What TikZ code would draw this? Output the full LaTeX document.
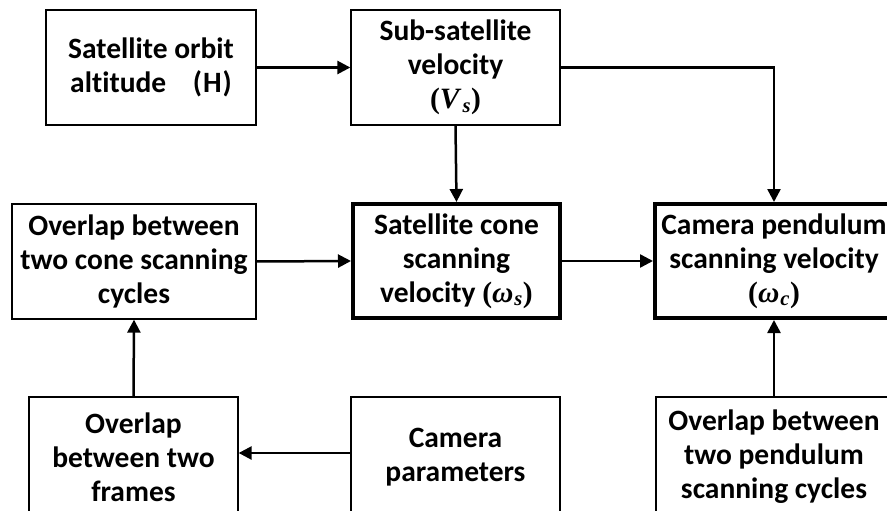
\documentclass[tikz,border=0pt]{standalone}
\usepackage{fontspec}
\setmainfont{Carlito}[Ligatures=NoCommon]
\newfontfamily\mathser{Liberation Serif}
\newcommand{\symv}[2]{{\mathser\bfseries(\textit{#1}\kern1pt\textsubscript{\textit{#2}})}}
\usetikzlibrary{arrows.meta}
\begin{document}
\begin{tikzpicture}[x=1pt,y=-1pt,
  box/.style={draw=black, line width=1.3pt, align=center, inner sep=0pt,
    minimum height=115pt, font=\fontsize{29.5}{34}\selectfont\bfseries},
  boldbox/.style={box, line width=4pt},
  conn/.style={line width=2.5pt, -{Triangle[length=13pt,width=13pt]}}]
\useasboundingbox (0,0) rectangle (887,511);
\node[box, minimum width=210pt] (alt) at (151,67.5) {Satellite orbit\\altitude\hspace{0.9em}(\kern1pt H\kern1pt)};
\node[box, minimum width=209pt] (sub) at (455.5,67.5) {Sub-satellite\\velocity\\\symv{V}{s}};
\node[box, minimum width=244pt] (ovc) at (134,261.5) {Overlap between\\two cone scanning\\cycles};
\node[boldbox, minimum width=207pt, minimum height=114pt] (sat) at (456.5,261) {Satellite cone\\scanning\\velocity \symv{ω}{s}};
\node[boldbox, minimum width=238pt, minimum height=114pt] (cam) at (774,261) {Camera pendulum\\scanning velocity\\\symv{ω}{c}};
\node[box, minimum width=209pt, minimum height=120pt] (ovf) at (133.5,457) {Overlap\\between two\\frames};
\node[box, minimum width=209pt, minimum height=120pt] (par) at (455.5,457) {Camera\\parameters};
\node[box, minimum width=236pt, minimum height=120pt] (ovp) at (774,457) {Overlap between\\two pendulum\\scanning cycles};
\draw[conn] (alt.east) -- (sub.west);
\draw[conn] (sub.east) -| (cam.north);
\draw[conn] (sub.south) -- (sat.north);
\draw[conn] (ovc.east) -- (sat.west);
\draw[conn] (sat.east) -- (cam.west);
\draw[conn] (ovf.north) -- (ovc.south);
\draw[conn] ([yshift=4pt]par.west) -- ([yshift=4pt]ovf.east);
\draw[conn] (ovp.north) -- (cam.south);
\end{tikzpicture}
\end{document}
